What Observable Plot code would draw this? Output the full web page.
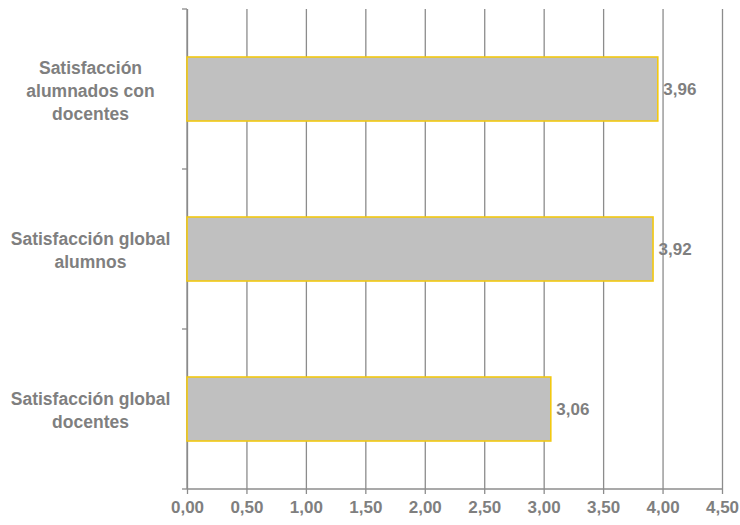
<!DOCTYPE html>
<html>
<head>
<meta charset="utf-8">
<script src="https://cdn.jsdelivr.net/npm/d3@7"></script>
<script src="https://cdn.jsdelivr.net/npm/@observablehq/plot@0.6"></script>
<style>
  html, body { margin: 0; padding: 0; background: #fff; }
  #chart svg { font-family: "Liberation Sans", Arial, sans-serif; }
</style>
</head>
<body>
<div id="chart"></div>
<script>
const categories = [
  "Satisfacción alumnados con docentes",
  "Satisfacción global alumnos",
  "Satisfacción global docentes"
];
const labelLines = [
  "Satisfacción\nalumnados con\ndocentes",
  "Satisfacción global\nalumnos",
  "Satisfacción global\ndocentes"
];
const values = [3.96, 3.92, 3.06];
const xTicks = [0, 0.5, 1, 1.5, 2, 2.5, 3, 3.5, 4, 4.5];

const data = categories.map((c, i) => ({category: c, value: values[i]}));
const fmt = v => v.toFixed(2).replace(".", ",");
const labelOf = new Map(categories.map((c, i) => [c, labelLines[i]]));

const gray = "#7f7f7f";
const lineGray = "#8c8c8c";

// band boundary ticks + axis lines drawn from the plot dimensions
function bandEdges(index, scales, values, dims) {
  const g = d3.create("svg:g").attr("stroke", lineGray).attr("stroke-width", 1.3);
  const top = dims.marginTop;
  const bottom = dims.height - dims.marginBottom;
  const n = scales.y.domain ? scales.y.domain().length : categories.length;
  for (let k = 0; k <= n; k++) {
    const e = top + k * ((bottom - top) / n);
    g.append("line").attr("x1", dims.marginLeft - 5).attr("x2", dims.marginLeft).attr("y1", e).attr("y2", e);
  }
  g.append("line").attr("x1", dims.marginLeft).attr("x2", dims.width - dims.marginRight)
    .attr("y1", bottom).attr("y2", bottom);
  g.append("line").attr("x1", dims.marginLeft).attr("x2", dims.marginLeft)
    .attr("y1", top).attr("y2", bottom);
  return g.node();
}

const plot = Plot.plot({
  width: 740,
  height: 525,
  marginTop: 9,
  marginBottom: 36,
  marginLeft: 187,
  marginRight: 18,
  style: {fontFamily: "Liberation Sans, Arial, sans-serif", background: "#fff"},
  x: {domain: [0, 4.5]},
  y: {domain: categories, padding: 0.6, paddingOuter: 0.3},
  marks: [
    Plot.gridX(xTicks, {stroke: lineGray, strokeOpacity: 1, strokeWidth: 1.3}),
    Plot.axisX({
      ticks: xTicks, tickFormat: fmt, tickSize: 5, tickPadding: 6,
      stroke: lineGray, strokeWidth: 1.3, color: gray, fill: gray,
      fontSize: 17, fontWeight: "bold", label: null
    }),
    Plot.axisY({
      tickSize: 0, tickPadding: 97, textAnchor: "middle", lineHeight: 1.32,
      tickFormat: d => labelOf.get(d), fill: gray, fontSize: 17.5, fontWeight: "bold", label: null
    }),
    bandEdges,
    Plot.barX(data, {
      x: "value", y: "category", fill: "#c0c0c0", stroke: "#f2c811", strokeWidth: 1.6
    }),
    Plot.text(data, {
      x: "value", y: "category", text: d => fmt(d.value), textAnchor: "start", dx: 5,
      fill: gray, fontSize: 17, fontWeight: "bold"
    })
  ]
});
document.getElementById("chart").appendChild(plot);
</script>
</body>
</html>
